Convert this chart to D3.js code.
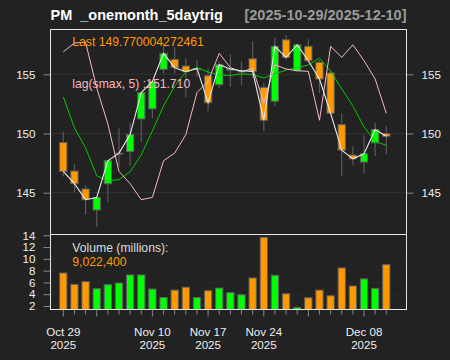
<!DOCTYPE html>
<html>
<head>
<meta charset="utf-8">
<script src="https://cdnjs.cloudflare.com/ajax/libs/d3/7.8.5/d3.min.js"></script>
<style>
  body { margin: 0; background: #222222; }
  svg text { font-family: "Liberation Sans", Arial, sans-serif; }
</style>
</head>
<body>
<svg id="chart" width="450" height="360"></svg>
<script>
// trading days, Oct 29 .. Dec 10 2025
const dates = ["2025-10-29","2025-10-30","2025-10-31","2025-11-03","2025-11-04","2025-11-05","2025-11-06","2025-11-07",
  "2025-11-10","2025-11-11","2025-11-12","2025-11-13","2025-11-14","2025-11-17","2025-11-18","2025-11-19","2025-11-20",
  "2025-11-21","2025-11-24","2025-11-25","2025-11-26","2025-11-28","2025-12-01","2025-12-02","2025-12-03","2025-12-04",
  "2025-12-05","2025-12-08","2025-12-09","2025-12-10"];
const open  = [149.24,146.83,145.31,143.54,145.76,148.26,148.48,151.23,152.08,155.42,156.26,155.70,155.40,154.88,154.12,
  155.35,155.20,156.31,153.90,152.73,157.91,155.30,157.36,156.01,155.11,150.75,148.18,147.59,149.21,150.00];
const high  = [150.14,147.44,145.59,144.70,147.75,150.45,150.87,153.40,154.50,157.61,157.33,156.31,156.20,155.50,156.10,
  156.70,156.10,157.78,154.30,158.12,158.34,157.60,157.97,156.20,155.30,151.74,148.93,149.86,150.90,150.62];
const low   = [146.37,145.03,143.15,142.11,144.24,147.22,147.30,149.27,151.29,155.08,155.08,153.03,154.80,151.88,153.85,
  153.93,154.10,154.69,150.20,152.30,156.23,155.20,155.95,153.42,151.60,146.41,147.33,146.63,148.09,148.23];
const close = [146.80,145.76,144.41,144.60,147.70,148.34,149.91,153.45,154.40,156.77,155.56,155.22,155.50,152.60,155.81,
  155.45,155.30,155.25,151.12,157.36,156.43,157.49,156.15,154.60,151.71,148.60,147.86,148.29,150.33,149.77];
const volume = [7.60,5.67,6.14,4.94,5.62,5.90,7.27,7.27,4.88,3.45,4.70,5.20,3.45,4.60,5.05,4.28,3.90,6.76,13.66,7.21,
  4.08,1.75,3.40,4.70,3.74,8.46,5.40,6.60,5.00,9.02];
const smaLine = [153.09,150.48,148.79,146.43,146.01,146.10,146.77,148.20,150.22,152.33,154.01,155.19,155.57,155.19,154.94,
  154.90,155.03,154.98,154.69,155.03,155.36,155.57,155.78,156.37,155.28,153.76,152.33,150.56,149.34,149.00];
const lagLine = [156.90,157.64,157.72,153.85,150.81,146.80,145.76,144.41,144.60,147.70,148.34,149.91,153.45,154.40,156.77,
  155.56,155.22,155.50,152.60,155.81,155.45,155.30,155.25,151.12,157.36,156.43,157.49,156.15,154.60,151.71];
const priceTicks = [145, 150, 155];
const volTicks = [2, 4, 6, 8, 10, 12, 14];
const majorTicks = ["2025-10-29","2025-11-03","2025-11-10","2025-11-17","2025-11-24","2025-12-01","2025-12-08"];
const labelTicks = ["2025-10-29","2025-11-10","2025-11-17","2025-11-24","2025-12-08"];

const svg = d3.select("#chart");
const L = 50.5, R = 406.5, T = 29.5, M = 234.5, B = 309.5;
const orange = "#ff9900", green = "#00ff00";

const x = d3.scalePoint().domain(dates).range([63.3, 386.3]);
const y = d3.scaleLinear().domain([145, 155]).range([192.7, 74.3]);
const yv = d3.scaleLinear().domain([2, 14]).range([306, 235.3]);
const bw = 7.3;
const fmtM = d3.timeFormat("%b %d"), parse = d3.timeParse("%Y-%m-%d");

// title
svg.append("text").attr("x", L).attr("y", 20).attr("fill", "#ffffff")
  .attr("font-size", 14.5).attr("font-weight", "bold").style("white-space", "pre")
  .text("PM  _onemonth_5daytrig");
svg.append("text").attr("x", R).attr("y", 20).attr("fill", "#9a9a9a").attr("text-anchor", "end")
  .attr("font-size", 14.5).attr("font-weight", "bold")
  .text("[2025-10-29/2025-12-10]");

// grid
svg.append("g").selectAll("line").data(priceTicks).join("line")
  .attr("x1", L).attr("x2", R).attr("y1", d => y(d)).attr("y2", d => y(d))
  .attr("stroke", "#333333");
svg.append("g").selectAll("line").data(volTicks).join("line")
  .attr("x1", L).attr("x2", R).attr("y1", d => yv(d)).attr("y2", d => yv(d))
  .attr("stroke", "#333333").attr("stroke-dasharray", "1,2");

// y axes
const axL = d3.axisLeft(y).tickValues(priceTicks).tickSize(7).tickPadding(8);
const axR = d3.axisRight(y).tickValues(priceTicks).tickSize(7).tickPadding(8);
const axV = d3.axisLeft(yv).tickValues(volTicks).tickSize(7).tickPadding(8);
function styleAxis(g) {
  g.select(".domain").remove();
  g.selectAll("line").attr("stroke", "#888888");
  g.selectAll("text").attr("fill", "#eeeeee").attr("font-size", 11.6)
    .style("font-family", "'Liberation Sans', Arial, sans-serif");
}
svg.append("g").attr("transform", `translate(${L},0)`).call(axL).call(styleAxis);
svg.append("g").attr("transform", `translate(${R},0)`).call(axR).call(styleAxis);
svg.append("g").attr("transform", `translate(${L},0)`).call(axV).call(styleAxis);

// x axis ticks and labels
svg.append("g").selectAll("line").data(dates).join("line")
  .attr("x1", d => x(d)).attr("x2", d => x(d))
  .attr("y1", B).attr("y2", d => B + (majorTicks.includes(d) ? 7 : 5))
  .attr("stroke", "#888888");
const xl = svg.append("g").selectAll("text").data(labelTicks).join("text")
  .attr("text-anchor", "middle").attr("fill", "#eeeeee").attr("font-size", 11.6);
xl.append("tspan").attr("x", d => x(d)).attr("y", 335.7).text(d => fmtM(parse(d)));
xl.append("tspan").attr("x", d => x(d)).attr("y", 349.3).text("2025");

const idx = d3.range(dates.length);
const col = i => close[i] >= open[i] ? green : orange;

// candles
svg.append("g").selectAll("line").data(idx).join("line")
  .attr("x1", i => x(dates[i])).attr("x2", i => x(dates[i]))
  .attr("y1", i => y(high[i])).attr("y2", i => y(low[i]))
  .attr("stroke", "#5a5a5a").attr("stroke-width", 1.2);
svg.append("g").selectAll("rect").data(idx).join("rect")
  .attr("x", i => x(dates[i]) - bw / 2).attr("width", bw)
  .attr("y", i => y(Math.max(open[i], close[i])))
  .attr("height", i => Math.max(1, Math.abs(y(open[i]) - y(close[i]))))
  .attr("fill", col).attr("stroke", "#5e5e5e").attr("stroke-width", 1);

// volume bars
svg.append("g").selectAll("rect").data(idx).join("rect")
  .attr("x", i => x(dates[i]) - bw / 2).attr("width", bw)
  .attr("y", i => yv(volume[i])).attr("height", i => B - yv(volume[i]))
  .attr("fill", col).attr("stroke", "#5e5e5e").attr("stroke-width", 1);

// lines
const ln = arr => d3.line().x((d, i) => x(dates[i])).y(d => y(d))(arr);
svg.append("path").attr("d", ln(smaLine)).attr("fill", "none").attr("stroke", "#00cc00").attr("stroke-width", 1);
svg.append("path").attr("d", ln(lagLine)).attr("fill", "none").attr("stroke", "#f4b8c4").attr("stroke-width", 1);
svg.append("path").attr("d", ln(close)).attr("fill", "none").attr("stroke", "#e8e8e8").attr("stroke-width", 1.1);

// frame
svg.append("rect").attr("x", L).attr("y", T).attr("width", R - L).attr("height", B - T)
  .attr("fill", "none").attr("stroke", "#e6e6e6");
svg.append("line").attr("x1", L).attr("x2", R).attr("y1", M).attr("y2", M).attr("stroke", "#e6e6e6");

// legends
svg.append("text").attr("x", 72.3).attr("y", 45.7).attr("fill", orange).attr("font-size", 12.2)
  .text("Last " + "149.770004272461");
svg.append("text").attr("x", 72.3).attr("y", 87.7).attr("fill", "#f4b8c4").attr("font-size", 12.2)
  .text("lag(smax, 5) :" + lagLine[lagLine.length - 1].toFixed(3));
svg.append("text").attr("x", 72.3).attr("y", 251.7).attr("fill", "#dddddd").attr("font-size", 12.2)
  .text("Volume (millions):");
svg.append("text").attr("x", 72.3).attr("y", 265.7).attr("fill", orange).attr("font-size", 12.2)
  .text(d3.format(",")(9022400));
</script>
</body>
</html>
